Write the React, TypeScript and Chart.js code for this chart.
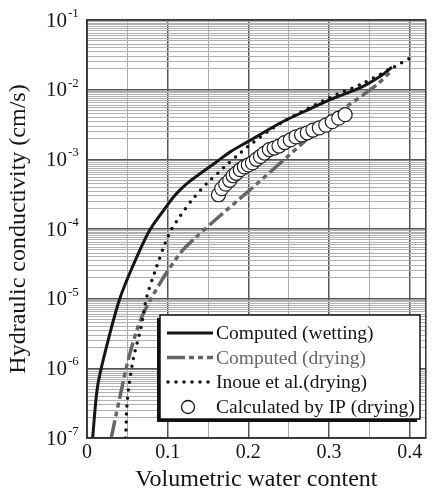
import React, { useEffect, useRef } from 'react';
import { Chart, registerables } from 'chart.js';

Chart.register(...registerables);

// ---- data ----
const wettingTheta = [0.007, 0.013, 0.024, 0.040, 0.056, 0.077, 0.097, 0.108, 0.117, 0.128, 0.140, 0.160, 0.178, 0.199, 0.239, 0.270, 0.300, 0.341, 0.365, 0.378];
const wettingK = [1e-7, 5.4e-7, 2.0e-6, 9.5e-6, 2.8e-5, 9.3e-5, 2.0e-4, 2.95e-4, 3.8e-4, 4.9e-4, 6.2e-4, 9.1e-4, 1.29e-3, 1.78e-3, 3.3e-3, 4.9e-3, 7.1e-3, 1.1e-2, 1.6e-2, 2.1e-2];

const dryingTheta = [0.030, 0.040, 0.052, 0.068, 0.093, 0.117, 0.135, 0.160, 0.199, 0.239, 0.280, 0.321, 0.357, 0.378];
const dryingK = [1e-7, 3.5e-7, 1.45e-6, 5.5e-6, 1.86e-5, 4.7e-5, 7.6e-5, 1.38e-4, 3.4e-4, 8.7e-4, 2.3e-3, 5.6e-3, 1.12e-2, 1.9e-2];

const inoueTheta = [0.048, 0.050, 0.057, 0.067, 0.074, 0.085, 0.097, 0.105, 0.115, 0.130, 0.150, 0.164, 0.175, 0.187, 0.200, 0.240, 0.300, 0.340, 0.380, 0.403];
const inoueK = [1e-7, 3.5e-7, 1.3e-6, 3.9e-6, 1.05e-5, 2.6e-5, 6.3e-5, 1.0e-4, 1.5e-4, 2.6e-4, 4.7e-4, 6.6e-4, 8.7e-4, 1.15e-3, 1.55e-3, 3.3e-3, 7.6e-3, 1.2e-2, 2.1e-2, 2.95e-2];

const ipTheta = [0.163, 0.167, 0.172, 0.177, 0.181, 0.185, 0.190, 0.195, 0.200, 0.205, 0.210, 0.215, 0.220, 0.226, 0.232, 0.238, 0.245, 0.252, 0.259, 0.266, 0.273, 0.280, 0.288, 0.296, 0.304, 0.312, 0.320];
const ipK = [3.1e-4, 3.8e-4, 4.4e-4, 5.0e-4, 5.8e-4, 6.3e-4, 7.1e-4, 7.8e-4, 8.3e-4, 8.9e-4, 1.0e-3, 1.1e-3, 1.23e-3, 1.38e-3, 1.45e-3, 1.55e-3, 1.74e-3, 1.9e-3, 2.1e-3, 2.24e-3, 2.4e-3, 2.63e-3, 2.82e-3, 3.1e-3, 3.47e-3, 3.9e-3, 4.37e-3];

const xTickValues = [0, 0.05, 0.1, 0.15, 0.2, 0.25, 0.3, 0.35, 0.4];
const xTickLabels = ['0', '', '0.1', '', '0.2', '', '0.3', '', '0.4'];
const yDecadeExponents = [-7, -6, -5, -4, -3, -2, -1];
const yTickBase = '10';
const yTickExponentLabels = ['-7', '-6', '-5', '-4', '-3', '-2', '-1'];
const yMinorMantissas = [2, 2.5, 3, 3.5, 4, 4.5, 5, 5.5, 6, 6.5, 7, 7.5, 8, 8.5, 9, 9.5];

const legendLabels = ['Computed (wetting)', 'Computed (drying)', 'Inoue et al.(drying)', 'Calculated by IP (drying)'];

const xTitle = 'Volumetric water content';
const yTitle = 'Hydraulic conductivity (cm/s)';

const FONT = '"Liberation Serif", "Times New Roman", serif';
const DARK = '#151515';
const GRAY = '#666666';

const toPts = (xs: number[], ys: number[]) => xs.map((x, i) => ({ x, y: ys[i] }));

const decorPlugin = {
  id: 'decor',
  afterDraw(chart: any) {
    const { ctx, chartArea } = chart;
    const yScale = chart.scales.y;
    ctx.save();
    // frame
    ctx.strokeStyle = '#333';
    ctx.lineWidth = 1.5;
    ctx.strokeRect(chartArea.left, chartArea.top, chartArea.right - chartArea.left, chartArea.bottom - chartArea.top);

    // y tick labels with superscripts
    ctx.fillStyle = DARK;
    yDecadeExponents.forEach((e, i) => {
      const y = yScale.getPixelForValue(Math.pow(10, e));
      ctx.font = `21px ${FONT}`;
      ctx.textAlign = 'right';
      ctx.textBaseline = 'alphabetic';
      ctx.fillText(yTickBase, chartArea.left - 20, y + 6.5);
      ctx.font = `13px ${FONT}`;
      ctx.textAlign = 'left';
      ctx.fillText(yTickExponentLabels[i], chartArea.left - 19, y - 3);
    });

    // legend
    const bx = 160, by = 315, bw = 260, bh = 104;
    ctx.fillStyle = '#111';
    ctx.fillRect(bx - 3, by + 3, bw, bh);
    ctx.fillStyle = '#fff';
    ctx.fillRect(bx, by, bw, bh);
    ctx.strokeStyle = '#111';
    ctx.lineWidth = 1.5;
    ctx.strokeRect(bx, by, bw, bh);

    const rowY = [333, 357.5, 382, 407];
    const sx0 = 167, sx1 = 213, tx = 216;
    // row 1 solid
    ctx.setLineDash([]);
    ctx.lineCap = 'butt';
    ctx.strokeStyle = DARK;
    ctx.lineWidth = 3;
    ctx.beginPath(); ctx.moveTo(sx0, rowY[0]); ctx.lineTo(sx1, rowY[0]); ctx.stroke();
    // row 2 dashed gray
    ctx.strokeStyle = GRAY;
    ctx.lineWidth = 3.5;
    ctx.setLineDash([18, 4, 5, 4, 5, 4]);
    ctx.beginPath(); ctx.moveTo(sx0, rowY[1]); ctx.lineTo(sx1, rowY[1]); ctx.stroke();
    // row 3 dotted
    ctx.strokeStyle = DARK;
    ctx.lineWidth = 3.5;
    ctx.lineCap = 'round';
    ctx.setLineDash([0, 8]);
    ctx.beginPath(); ctx.moveTo(sx0 + 1, rowY[2]); ctx.lineTo(sx1, rowY[2]); ctx.stroke();
    ctx.setLineDash([]);
    ctx.lineCap = 'butt';
    // row 4 circle
    ctx.strokeStyle = DARK;
    ctx.lineWidth = 1.3;
    ctx.fillStyle = '#fff';
    ctx.beginPath(); ctx.arc(188, rowY[3], 6.5, 0, Math.PI * 2); ctx.fill(); ctx.stroke();

    ctx.font = `19.5px ${FONT}`;
    ctx.textAlign = 'left';
    ctx.textBaseline = 'middle';
    legendLabels.forEach((t, i) => {
      ctx.fillStyle = i === 1 ? GRAY : DARK;
      ctx.fillText(t, tx, rowY[i] + 1);
    });
    ctx.restore();
  },
};

export default function App() {
  const canvasRef = useRef<HTMLCanvasElement | null>(null);

  useEffect(() => {
    const canvas = canvasRef.current;
    if (!canvas) return;
    const chart = new Chart(canvas, {
      type: 'line',
      data: {
        datasets: [
          {
            label: legendLabels[3],
            data: toPts(ipTheta, ipK),
            showLine: false,
            pointRadius: 7,
            pointBorderWidth: 1.2,
            pointBackgroundColor: '#ffffff',
            pointBorderColor: '#222',
            order: 0,
          },
          {
            label: legendLabels[2],
            data: toPts(inoueTheta, inoueK),
            borderColor: DARK,
            borderWidth: 3.5,
            borderDash: [0, 8],
            borderCapStyle: 'round',
            pointRadius: 0,
            tension: 0.3,
            fill: false,
            order: 1,
          },
          {
            label: legendLabels[1],
            data: toPts(dryingTheta, dryingK),
            borderColor: GRAY,
            borderWidth: 3.5,
            borderDash: [18, 4, 5, 4, 5, 4],
            pointRadius: 0,
            tension: 0.3,
            fill: false,
            order: 2,
          },
          {
            label: legendLabels[0],
            data: toPts(wettingTheta, wettingK),
            borderColor: DARK,
            borderWidth: 3,
            pointRadius: 0,
            tension: 0.3,
            fill: false,
            order: 3,
          },
        ],
      },
      options: {
        responsive: false,
        animation: false,
        devicePixelRatio: 1,
        layout: { padding: { top: 20, right: 2.5, left: 0, bottom: 0 } },
        plugins: { legend: { display: false }, tooltip: { enabled: false } },
        scales: {
          x: {
            type: 'linear',
            min: 0,
            max: 0.42,
            afterBuildTicks: (scale: any) => {
              scale.ticks = xTickValues.map((v, i) => ({ value: v, major: xTickLabels[i] !== '' }));
            },
            afterFit: (scale: any) => { scale.height = 56; },
            ticks: {
              autoSkip: false,
              maxRotation: 0,
              padding: 3,
              color: DARK,
              font: { family: FONT, size: 20 },
              callback: (_v: any, i: number) => xTickLabels[i],
            },
            grid: {
              drawTicks: false,
              color: (c: any) => (c.tick && c.tick.major ? '#555' : '#aaa'),
              lineWidth: (c: any) => (c.tick && c.tick.major ? 1.5 : 1),
            },
            border: { display: true, color: '#333', width: 1.5 },
            title: {
              display: true,
              text: xTitle,
              color: DARK,
              font: { family: FONT, size: 24 },
              padding: { top: 0, bottom: 0 },
            },
          },
          y: {
            type: 'logarithmic',
            min: 1e-7,
            max: 1e-1,
            afterBuildTicks: (scale: any) => {
              const t: any[] = [];
              yDecadeExponents.forEach((e) => {
                t.push({ value: Math.pow(10, e), major: true });
                if (e < -1) yMinorMantissas.forEach((m) => t.push({ value: m * Math.pow(10, e), major: false }));
              });
              scale.ticks = t;
            },
            afterFit: (scale: any) => { scale.width = 87; },
            ticks: { display: false, autoSkip: false },
            grid: {
              drawTicks: false,
              color: (c: any) => (c.tick && c.tick.major ? '#555' : '#b0b0b0'),
              lineWidth: (c: any) => (c.tick && c.tick.major ? 1.5 : 1),
            },
            border: { display: true, color: '#333', width: 1.5 },
            title: {
              display: true,
              text: yTitle,
              color: DARK,
              font: { family: FONT, size: 24 },
              padding: { top: 4, bottom: 0 },
            },
          },
        },
      },
      plugins: [decorPlugin],
    } as any);
    return () => chart.destroy();
  }, []);

  return (
    <div style={{ position: 'fixed', left: 0, top: 0, width: 434, height: 494, background: '#fff' }}>
      <canvas ref={canvasRef} width={434} height={494} style={{ display: 'block', width: 434, height: 494 }} />
    </div>
  );
}
